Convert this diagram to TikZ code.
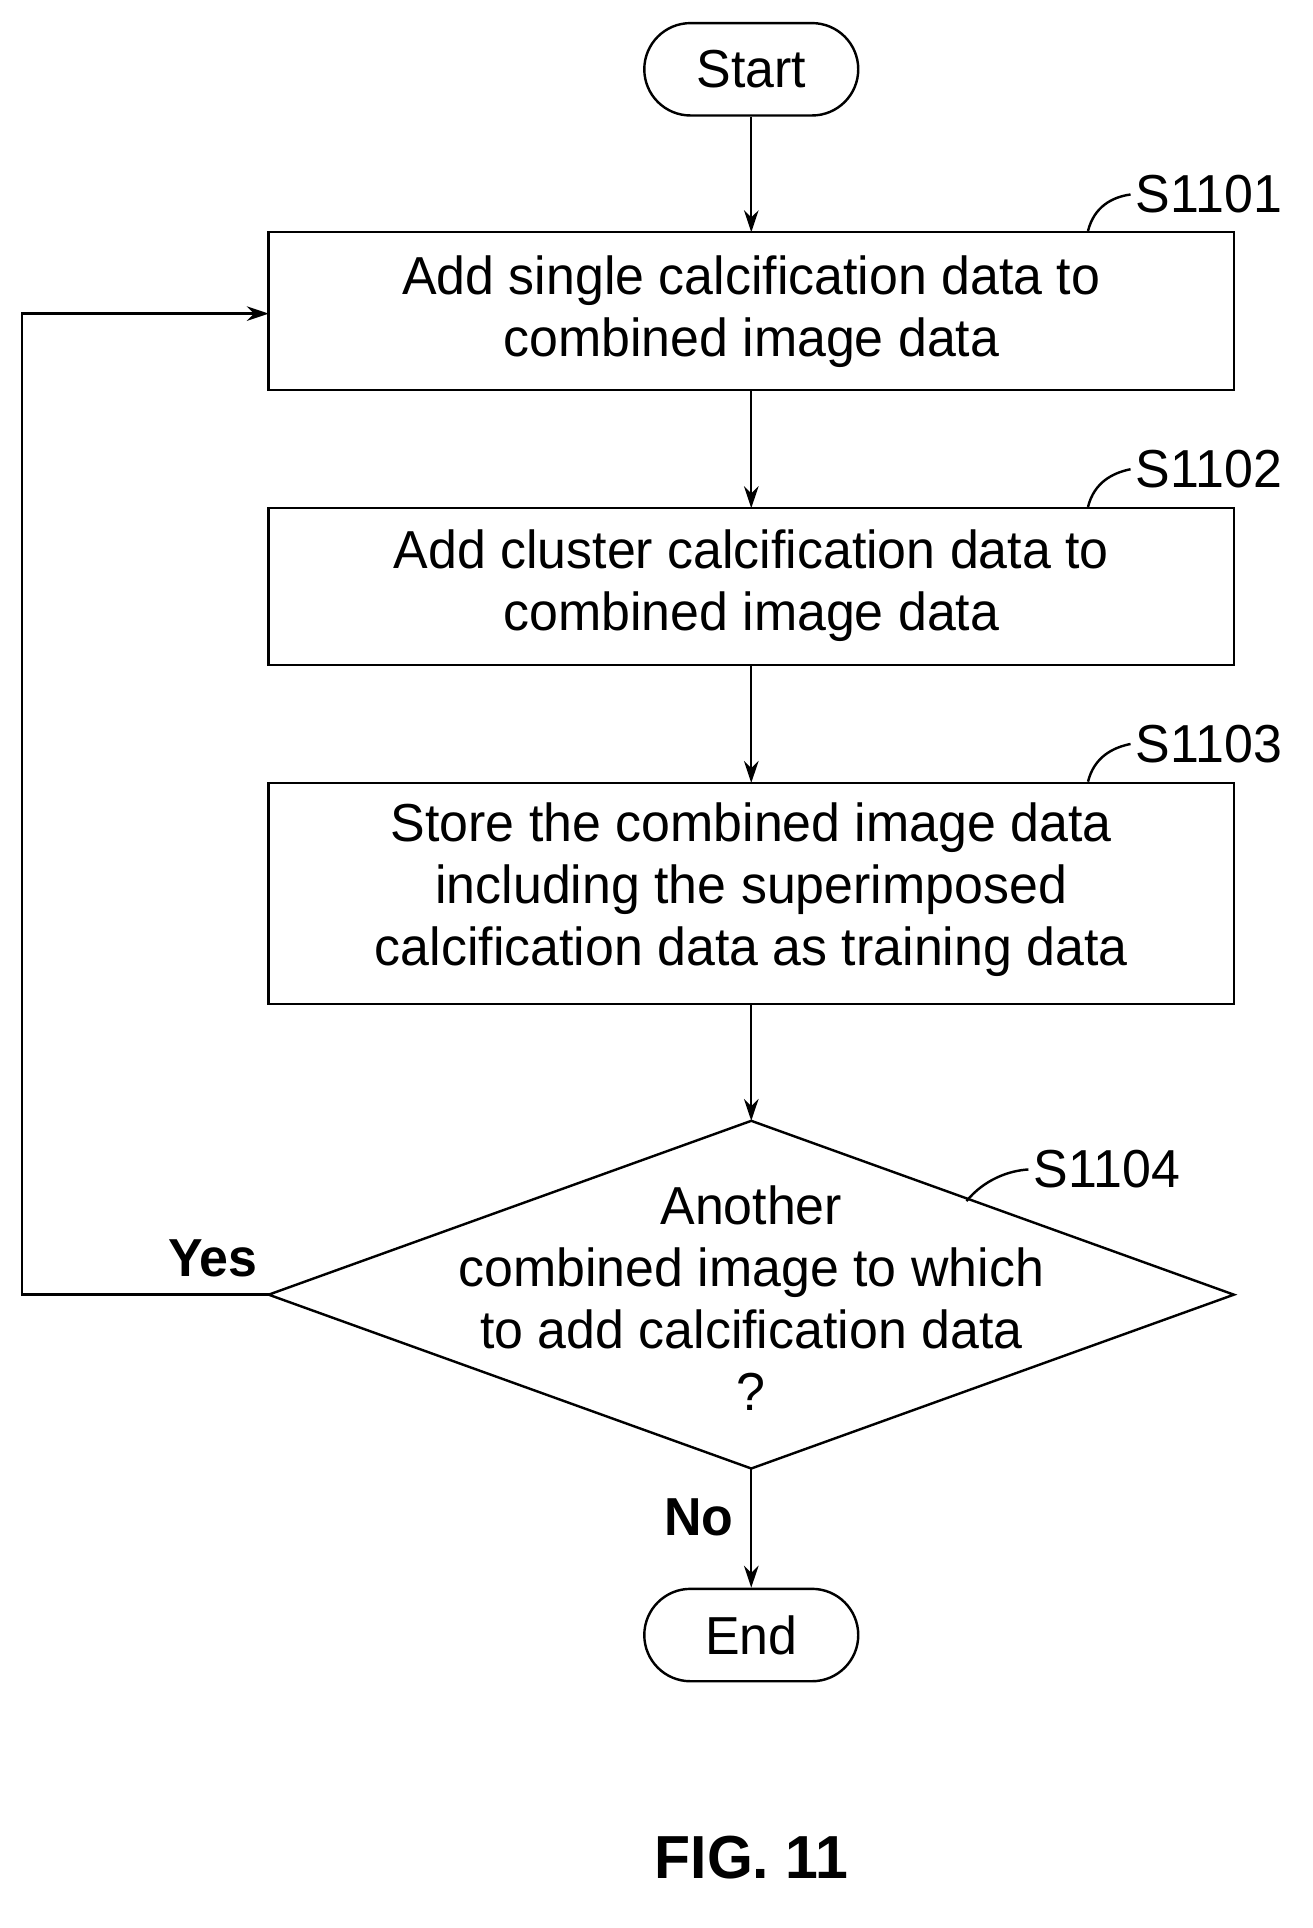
\documentclass[tikz,border=0pt]{standalone}
\usepackage{fontspec}
\setmainfont[FakeStretch=0.97]{Liberation Sans}
\usetikzlibrary{shapes.geometric,arrows.meta}
\begin{document}
\begin{tikzpicture}[x=1pt,y=-1pt,line width=2pt,
  lab/.style={font=\fontsize{44}{51}\selectfont},
  arr/.style={-{Stealth[length=18pt,width=12pt]}}]
\useasboundingbox (0,0) rectangle (1080,1586);
\node[draw,rounded corners=38pt,minimum width=176pt,minimum height=76pt,lab] (start) at (618,57) {Start};
\draw (221,191) rectangle (1015,321); \node[lab,align=center] (b1) at (618,256) {Add single calcification data to\\combined image data};
\coordinate (b1t) at (618,191); \coordinate (b1b) at (618,321); \coordinate (b1w) at (221,258);
\draw (221,418) rectangle (1015,547); \node[lab,align=center] (b2) at (618,482) {Add cluster calcification data to\\combined image data};
\coordinate (b2t) at (618,418); \coordinate (b2b) at (618,547);
\draw (221,644) rectangle (1015,826); \node[lab,align=center] (b3) at (618,732) {Store the combined image data\\including the superimposed\\calcification data as training data};
\coordinate (b3t) at (618,644); \coordinate (b3b) at (618,826);
\coordinate (dt) at (618,922); \coordinate (db) at (618,1208); \coordinate (dl) at (221,1065); \coordinate (dr) at (1015,1065);
\draw (dt)--(dr)--(db)--(dl)--cycle;
\node[lab,align=center] (d) at (618,1068) {Another\\combined image to which\\to add calcification data\\?};
\node[draw,rounded corners=38pt,minimum width=176pt,minimum height=76pt,lab] (end) at (618,1345) {End};
\draw[arr] (start.south) -- (b1t);
\draw[arr] (b1b) -- (b2t);
\draw[arr] (b2b) -- (b3t);
\draw[arr] (b3b) -- (dt);
\draw[arr] (db) -- (end.north);
\draw[arr] (dl) -- (18,1065) -- (18,258) -- (b1w);
\node[lab,font=\bfseries\fontsize{44}{51}\selectfont] (yes) at (175,1035) {Yes};
\node[lab,font=\bfseries\fontsize{44}{51}\selectfont] (no) at (575,1248) {No};
\node[lab,anchor=west] (s1) at (930,160) {S1101};
\node[lab,anchor=west] (s2) at (930,386) {S1102};
\node[lab,anchor=west] (s3) at (930,612) {S1103};
\node[lab,anchor=west] (s4) at (846,962) {S1104};
\draw (895,190) .. controls (900,170) and (915,162) .. (s1.west);
\draw (895,417) .. controls (900,397) and (915,389) .. (s2.west);
\draw (895,643) .. controls (900,623) and (915,615) .. (s3.west);
\draw (795,988) .. controls (810,970) and (830,963) .. (s4.west);
\node[font=\bfseries\fontsize{50}{56}\selectfont] (fig) at (618,1528) {FIG. 11};
\end{tikzpicture}
\end{document}
